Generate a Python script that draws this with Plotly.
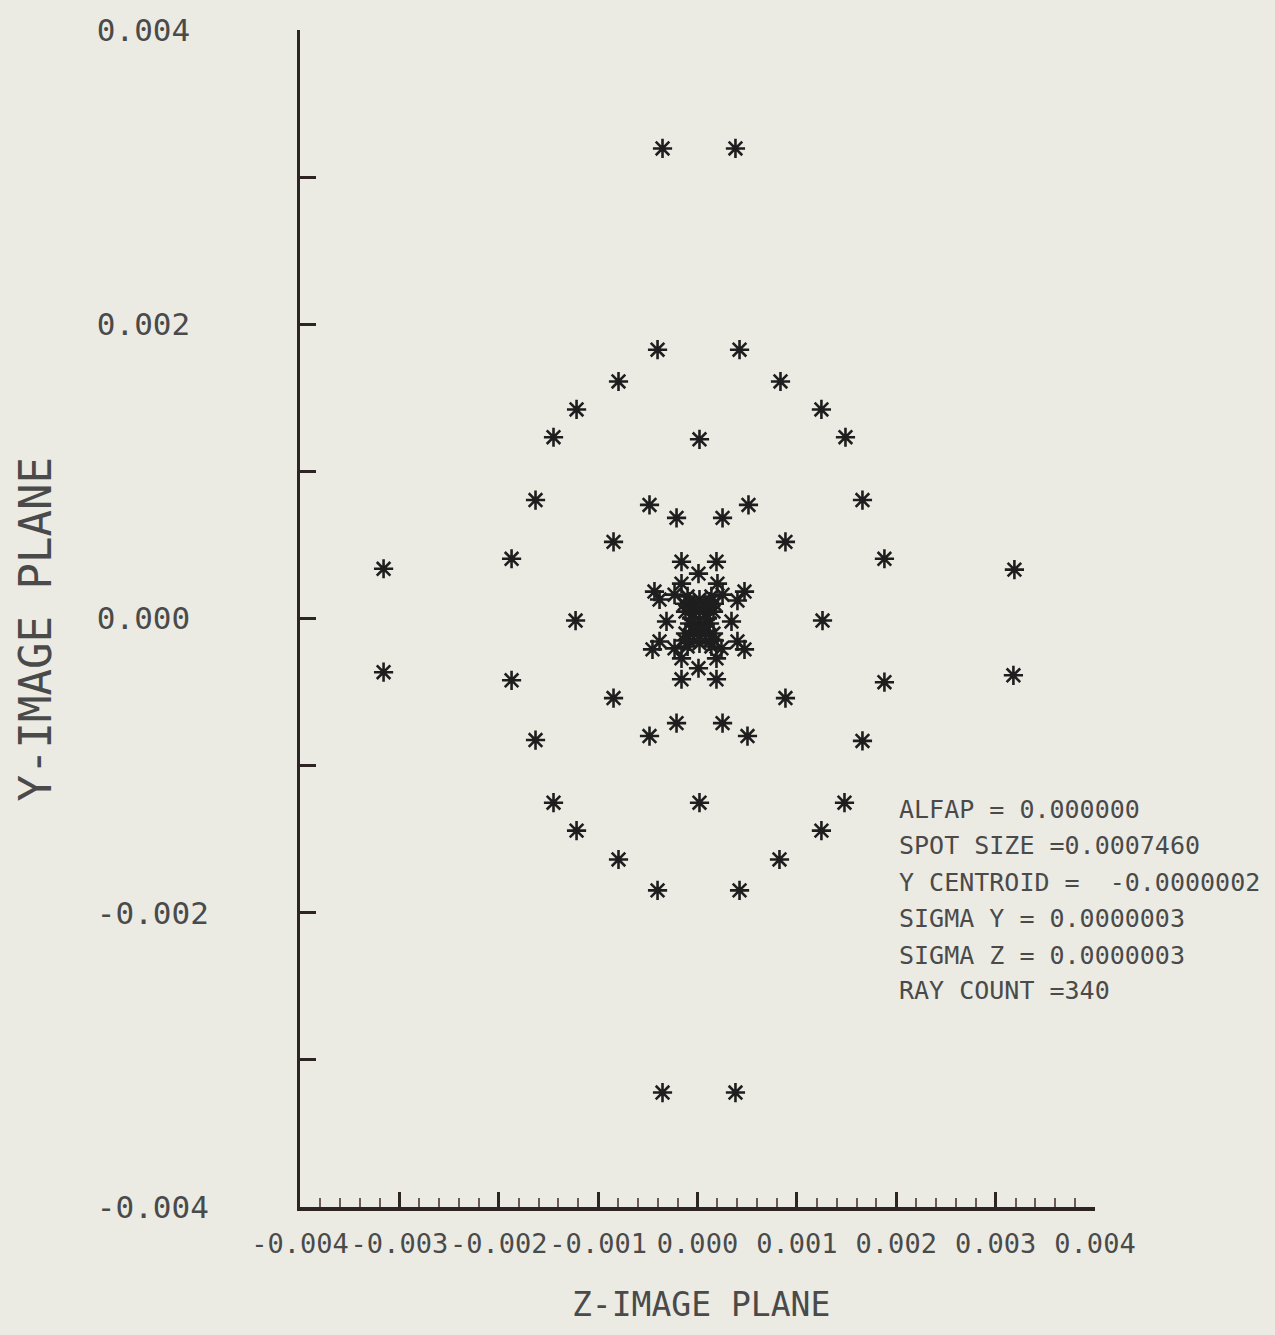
import plotly.graph_objects as go

# Spot diagram: ray intercepts on the image plane (Z horizontal, Y vertical)
z_rays = [
    -0.000352, 0.000382, -0.000402, 0.000423, -0.000795, 0.000835,
    -0.001217, 0.001247, -0.001449, 0.001489, 0.000020,
    -0.001630, 0.001660, -0.000483, 0.000513, -0.000211, 0.000252,
    -0.000845, 0.000885, -0.001871, 0.001881, -0.003159, 0.003189,
    -0.001227, 0.001258,
    -0.003159, 0.003179, -0.001871, 0.001881, -0.000845, 0.000885,
    -0.000211, 0.000252, -0.000483, 0.000503, -0.001630, 0.001660,
    0.000020, -0.001449, 0.001479, -0.001217, 0.001247,
    -0.000795, 0.000825, -0.000402, 0.000423, -0.000352, 0.000382,
    # inner ring
    -0.000161, 0.000191, 0.000010, -0.000161, 0.000201,
    -0.000433, 0.000473, -0.000231, 0.000252, -0.000382, 0.000402,
    -0.000312, 0.000342, -0.000382, 0.000402, -0.000453, 0.000473,
    -0.000231, 0.000241, -0.000161, 0.000191, 0.000010,
    -0.000161, 0.000191,
    # core
    -0.000080, 0.000121, 0.000020, -0.000121, 0.000161, -0.000040, 0.000080,
    -0.000080, 0.000121, 0.000020, -0.000121, 0.000161, -0.000040, 0.000080,
    -0.000080, 0.000121, 0.000020, -0.000030, 0.000070, -0.000030, 0.000070,
    -0.000100, 0.000140, -0.000100, 0.000140, 0.000020, 0.000020,
    -0.000060, 0.000100, -0.000130, 0.000170, -0.000130, 0.000170,
]
y_rays = [
    0.003195, 0.003195, 0.001827, 0.001827, 0.001611, 0.001611,
    0.001421, 0.001421, 0.001232, 0.001232, 0.001218,
    0.000805, 0.000805, 0.000772, 0.000772, 0.000684, 0.000684,
    0.000521, 0.000521, 0.000406, 0.000406, 0.000338, 0.000332,
    -0.000014, -0.000014,
    -0.000365, -0.000386, -0.000420, -0.000433, -0.000541, -0.000541,
    -0.000711, -0.000711, -0.000799, -0.000799, -0.000826, -0.000832,
    -0.001252, -0.001252, -0.001252, -0.001442, -0.001442,
    -0.001638, -0.001638, -0.001848, -0.001848, -0.003222, -0.003222,
    # inner ring
    0.000386, 0.000386, 0.000305, 0.000237, 0.000237,
    0.000183, 0.000183, 0.000162, 0.000162, 0.000129, 0.000122,
    -0.000020, -0.000020, -0.000156, -0.000156, -0.000210, -0.000210,
    -0.000203, -0.000203, -0.000271, -0.000271, -0.000338,
    -0.000413, -0.000413,
    # core
    0.000115, 0.000115, 0.000129, 0.000047, 0.000047, 0.000034, 0.000034,
    -0.000034, -0.000034, -0.000007, -0.000102, -0.000102, -0.000088, -0.000088,
    -0.000156, -0.000156, -0.000169, 0.000081, 0.000081, -0.000054, -0.000054,
    0.000150, 0.000150, -0.000190, -0.000190, 0.000060, -0.000120,
    0.000000, 0.000000, 0.000100, 0.000100, -0.000150, -0.000150,
]

x_tick_vals = [-0.004, -0.003, -0.002, -0.001, 0.0, 0.001, 0.002, 0.003, 0.004]
x_tick_text = ["-0.004", "-0.003", "-0.002", "-0.001", "0.000",
               "0.001", "0.002", "0.003", "0.004"]
y_tick_vals = [-0.004, -0.003, -0.002, -0.001, 0.0, 0.001, 0.002, 0.003, 0.004]
y_tick_text = ["-0.004", "", "-0.002", "", "0.000\u00a0",
               "", "0.002\u00a0", "", "0.004\u00a0"]

stats_lines = [
    "ALFAP = 0.000000",
    "SPOT SIZE =0.0007460",
    "Y CENTROID =\u00a0\u00a0-0.0000002",
    "SIGMA Y = 0.0000003",
    "SIGMA Z = 0.0000003",
    "RAY COUNT =340",
]

BG = "#ebebe4"
INK = "#2e2424"
TEXT = "#4a4a4a"
MONO = "DejaVu Sans Mono"

fig = go.Figure()
fig.add_trace(go.Scatter(
    x=z_rays, y=y_rays, mode="markers",
    marker=dict(symbol="asterisk-open", size=16, color="#1e1e1e",
                line=dict(width=2.6, color="#1e1e1e")),
    showlegend=False, hoverinfo="skip",
))

fig.update_xaxes(
    range=[-0.004, 0.004], showgrid=False, zeroline=False,
    showline=True, linecolor=INK, linewidth=4,
    ticks="inside", ticklen=15, tickwidth=3, tickcolor=INK,
    tickvals=x_tick_vals, ticktext=x_tick_text, tickangle=0,
    tickfont=dict(family=MONO, size=27, color=TEXT),
    ticklabelstandoff=10,
    minor=dict(dtick=0.0002, tick0=0, ticks="inside", ticklen=9,
               tickwidth=1.5, tickcolor="#6a5a5a", showgrid=False),
)
fig.update_yaxes(
    range=[-0.004, 0.004], showgrid=False, zeroline=False,
    showline=True, linecolor=INK, linewidth=3,
    ticks="inside", ticklen=16, tickwidth=2.5, tickcolor=INK,
    tickvals=y_tick_vals, ticktext=y_tick_text,
    tickfont=dict(family=MONO, size=31, color=TEXT),
    ticklabelstandoff=82,
)

annotations = [
    dict(text="Y-IMAGE PLANE", xref="paper", yref="paper",
         x=-0.3333, y=0.4907, textangle=-90, showarrow=False,
         xanchor="center", yanchor="middle",
         font=dict(family=MONO, size=44, color=TEXT)),
    dict(text="Z-IMAGE PLANE", xref="paper", yref="paper",
         x=0.5044, y=-0.0829, showarrow=False,
         xanchor="center", yanchor="middle",
         font=dict(family=MONO, size=33, color=TEXT)),
]
stats_y_px = [808, 844, 881, 917, 954, 990]
for line, ypx in zip(stats_lines, stats_y_px):
    annotations.append(dict(
        text=line, xref="paper", yref="paper",
        x=(897 - 300) / 795, y=(1207 - ypx) / 1182,
        xanchor="left", yanchor="middle", showarrow=False,
        font=dict(family=MONO, size=25, color=TEXT),
    ))

fig.update_layout(
    width=1275, height=1335,
    margin=dict(l=300, r=180, t=25, b=128),
    paper_bgcolor=BG, plot_bgcolor=BG,
    annotations=annotations,
)

fig.write_html("out.html", config={"displayModeBar": False})
